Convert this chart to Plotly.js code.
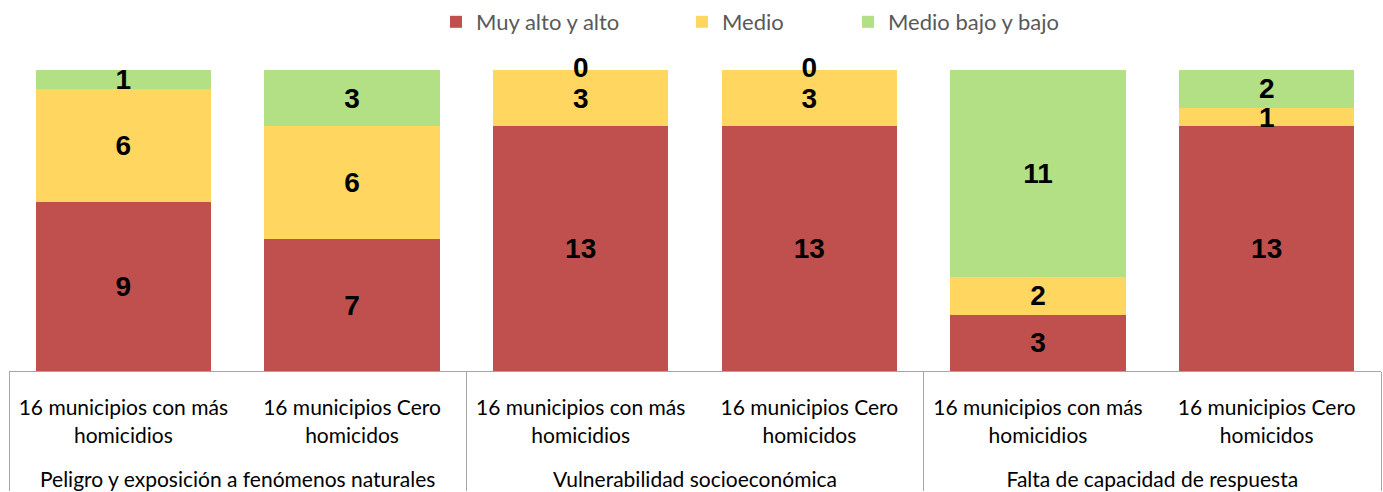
<!DOCTYPE html>
<html>
<head>
<meta charset="utf-8">
<script src="https://cdn.plot.ly/plotly-3.0.1.min.js"></script>
<style>html,body{margin:0;padding:0;background:#fff;}#chart{width:1383px;height:492px;}</style>
</head>
<body>
<div id="chart"></div>
<script>
const groups = [
  "Peligro y exposición a fenómenos naturales",
  "Peligro y exposición a fenómenos naturales",
  "Vulnerabilidad socioeconómica",
  "Vulnerabilidad socioeconómica",
  "Falta de capacidad de respuesta",
  "Falta de capacidad de respuesta"
];
const subcats = [
  "16 municipios con más<br>homicidios",
  "16 municipios Cero<br>homicidos",
  "16 municipios con más<br>homicidios",
  "16 municipios Cero<br>homicidos",
  "16 municipios con más<br>homicidios",
  "16 municipios Cero<br>homicidos"
];
const seriesNames = ["Muy alto y alto", "Medio", "Medio bajo y bajo"];
const muyAlto = [9, 7, 13, 13, 3, 13];
const medio = [6, 6, 3, 3, 2, 1];
const bajo = [1, 3, 0, 0, 11, 2];
const colors = ["#C0504D", "#FFD65F", "#B3DF85"];

const labelFont = {family: "Liberation Sans, Arial, sans-serif", size: 28, color: "#000000"};
// trailing blank line leaves room between the sub-category and group labels
const subLabels = subcats.map(s => s + "<br><span style='font-size:54px'>&nbsp;</span>");
const x = [groups, subLabels];
const legendIds = ["legend", "legend2", "legend3"];

function barTrace(i, vals) {
  return {
    type: "bar", name: seriesNames[i], x: x, y: vals, legend: legendIds[i],
    marker: {color: colors[i], line: {width: 0}},
    text: vals.map(v => "<b>" + v + "</b>"),
    textposition: "inside", insidetextanchor: "middle", textangle: 0,
    constraintext: "none", textfont: labelFont, cliponaxis: false,
    hoverinfo: "skip"
  };
}

// zero-valued segments: their label still shows at the top of the stack
const zx0 = [], zx1 = [], zy = [], zt = [];
bajo.forEach((v, i) => {
  if (v === 0) {
    zx0.push(groups[i]); zx1.push(subLabels[i]);
    zy.push(muyAlto[i] + medio[i] + bajo[i]);
    zt.push("<b>0</b>");
  }
});

const data = [
  barTrace(0, muyAlto),
  barTrace(1, medio),
  barTrace(2, bajo),
  {type: "scatter", mode: "text", x: [zx0, zx1], y: zy, text: zt,
   textposition: "middle center", textfont: labelFont, showlegend: false,
   cliponaxis: false, hoverinfo: "skip"}
];

const legFont = {family: "Lato, 'Noto Sans', sans-serif", size: 22, color: "#595959"};
function leg(px) {
  return {orientation: "h", xref: "container", yref: "container",
          x: px / 1383, xanchor: "left", y: 1 - 22 / 492, yanchor: "middle",
          font: legFont, bgcolor: "rgba(0,0,0,0)", borderwidth: 0};
}

const layout = {
  width: 1383, height: 492,
  margin: {l: 9, r: 2, t: 70, b: 121},
  paper_bgcolor: "#ffffff", plot_bgcolor: "#ffffff",
  barmode: "stack", bargap: 0.234,
  font: {family: "Lato, 'Noto Sans', sans-serif", size: 21, color: "#000000"},
  showlegend: true,
  legend: leg(436), legend2: leg(682), legend3: leg(848),
  xaxis: {
    type: "multicategory", showline: true, linecolor: "#a6a6a6", linewidth: 1,
    showdividers: true, dividercolor: "#a6a6a6", dividerwidth: 1,
    ticks: "", showgrid: false, ticklabelstandoff: 18,
    tickfont: {size: 21, color: "#000000"}
  },
  yaxis: {range: [0, 16], visible: false, showgrid: false, zeroline: false}
};

Plotly.newPlot("chart", data, layout, {displayModeBar: false, staticPlot: true});
</script>
</body>
</html>
